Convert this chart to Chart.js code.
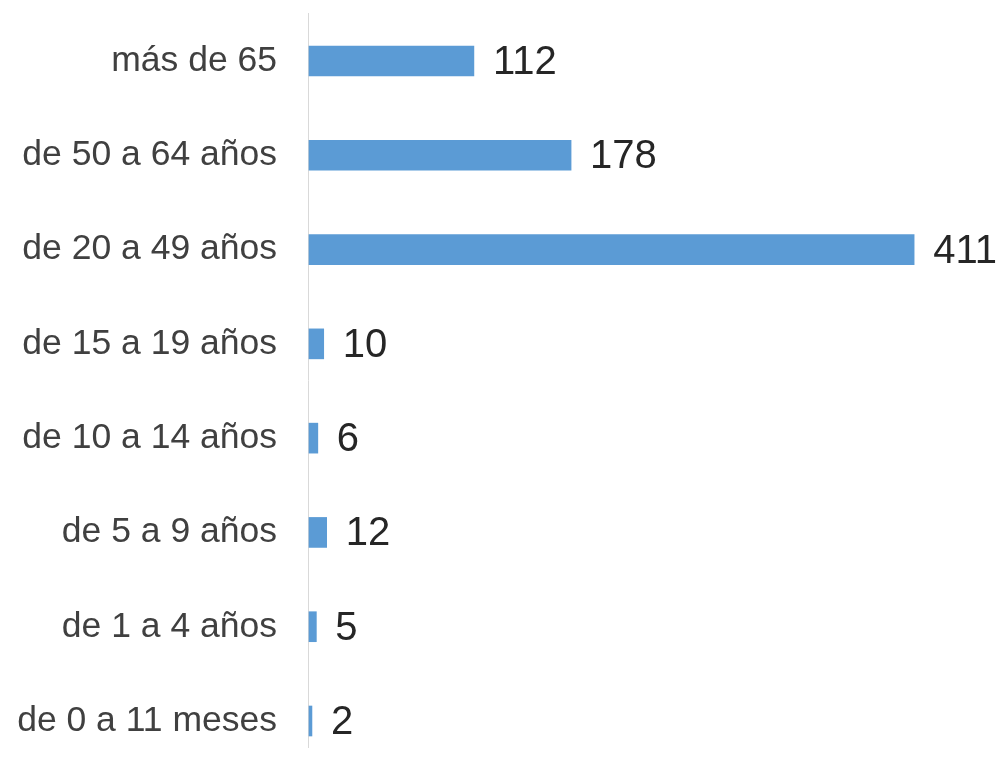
<!DOCTYPE html>
<html>
<head>
<meta charset="utf-8">
<script src="https://cdn.jsdelivr.net/npm/chart.js@4/dist/chart.umd.min.js"></script>
<style>
html,body{margin:0;padding:0;background:#fff;overflow:hidden;}
#c{display:block;}
</style>
</head>
<body>
<canvas id="c" width="1001" height="759"></canvas>
<script>
const categories = [
  "más de 65",
  "de 50 a 64 años",
  "de 20 a 49 años",
  "de 15 a 19 años",
  "de 10 a 14 años",
  "de 5 a 9 años",
  "de 1 a 4 años",
  "de 0 a 11 meses"
];
const values = [112, 178, 411, 10, 6, 12, 5, 2];

const axisLinePlugin = {
  id: 'axisLine',
  beforeDatasetsDraw(chart) {
    const ctx = chart.ctx;
    const a = chart.chartArea;
    ctx.save();
    ctx.strokeStyle = '#d9d9d9';
    ctx.lineWidth = 1;
    ctx.beginPath();
    ctx.moveTo(a.left - 0.5, a.top - 48);
    ctx.lineTo(a.left - 0.5, a.bottom + 27);
    ctx.stroke();
    ctx.restore();
  }
};

const valueLabelPlugin = {
  id: 'valueLabels',
  afterDatasetsDraw(chart) {
    const ctx = chart.ctx;
    const meta = chart.getDatasetMeta(0);
    ctx.save();
    ctx.font = '40px "Liberation Sans", Arial, sans-serif';
    ctx.fillStyle = '#262626';
    ctx.textAlign = 'left';
    ctx.textBaseline = 'middle';
    meta.data.forEach((bar, i) => {
      ctx.fillText(String(values[i]), bar.x + 19, bar.y + 2);
    });
    ctx.restore();
  }
};

new Chart(document.getElementById('c'), {
  type: 'bar',
  data: {
    labels: categories,
    datasets: [{
      data: values,
      backgroundColor: '#5b9bd5',
      borderWidth: 0,
      barThickness: 30,
      clip: false
    }]
  },
  options: {
    indexAxis: 'y',
    responsive: false,
    animation: false,
    layout: { padding: { top: 61, bottom: 38, left: 0, right: 0 } },
    plugins: {
      legend: { display: false },
      tooltip: { enabled: false }
    },
    scales: {
      x: {
        display: false,
        min: 0,
        max: 470
      },
      y: {
        offset: false,
        grid: { display: false, drawTicks: false },
        border: { display: false },
        afterFit(scale) {
          scale.width = 309;
          scale.paddingTop = 0;
          scale.paddingBottom = 0;
        },
        ticks: {
          padding: 32,
          color: '#404040',
          font: { family: '"Liberation Sans", Arial, sans-serif', size: 35.5 }
        }
      }
    }
  },
  plugins: [axisLinePlugin, valueLabelPlugin]
});
</script>
</body>
</html>
